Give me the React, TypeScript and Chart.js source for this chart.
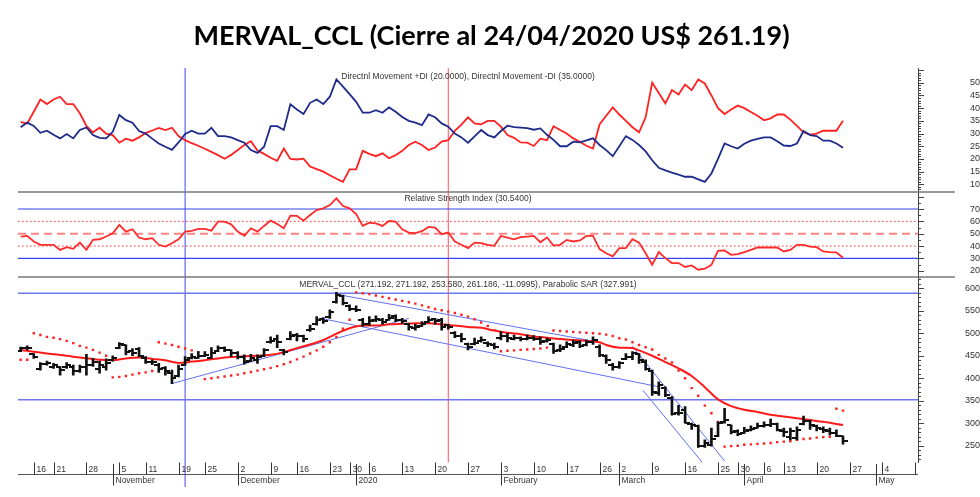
import { useEffect, useRef } from 'react';
import { Chart, registerables } from 'chart.js';

Chart.register(...registerables);

const FONT = '"Liberation Sans", Arial, sans-serif';
Chart.defaults.font.family = FONT;

const TITLE = 'MERVAL_CCL (Cierre al 24/04/2020 US$ 261.19)';
const DI_CAPTION = 'Directnl Movement +DI (20.0000), Directnl Movement -DI (35.0000)';
const RSI_CAPTION = 'Relative Strength Index (30.5400)';
const PRICE_CAPTION = 'MERVAL_CCL (271.192, 271.192, 253.580, 261.186, -11.0995), Parabolic SAR (327.991)';

// x axis: trading-day index (0 = 11 Oct 2019, 125 = 24 Apr 2020)
const X_MIN = -0.4;
const X_MAX = 136.4;
const WEEK_IDX = [2, 5, 10, 15, 19, 24, 28, 33, 38, 42, 47, 50, 53, 58, 63, 68, 73, 78, 83, 88, 91, 96, 101, 106, 109, 113, 116, 121, 126, 131, 136];
const WEEK_LABELS = ['16', '21', '28', '5', '11', '19', '25', '2', '9', '16', '23', '30', '6', '13', '20', '27', '3', '10', '17', '26', '2', '9', '16', '25', '30', '6', '13', '20', '27', '4', ''];
const MONTH_IDX = [14, 33, 51, 73, 91, 110, 130];
const MONTH_LABELS = ['November', 'December', '2020', 'February', 'March', 'April', 'May'];

const V_BLUE_IDX = 25;
const V_RED_IDX = 65;

// Directional movement
const DI_MIN = 7.0;
const DI_MAX = 55.8;
const DI_TICKS = [10, 15, 20, 25, 30, 35, 40, 45, 50];
const PLUS_DI = [
  32.5, 34.3, 33, 30.3, 31.1, 29.5, 28.1, 29.8, 28.1, 31.4,
  32.4, 29.4, 28.3, 28.1, 30.7, 37.3, 35.3, 34.3, 31, 30,
  28, 26.1, 24.8, 23.6, 26.5, 29.8, 31.1, 30, 30, 32.3,
  29, 29, 28.5, 27.4, 26.4, 23.5, 22.4, 24.8, 32.9, 32.9,
  31.4, 41.5, 39.5, 37.7, 42.1, 43.4, 41.6, 44.5, 51.3, 48.5,
  45.5, 42.5, 38.2, 38.2, 39.2, 38.2, 40.3, 38.6, 36.5, 35,
  34.3, 33.3, 37.5, 36.4, 34, 32.7, 30, 28.5, 26.4, 28.9,
  31.4, 29.4, 28.5, 31, 33.1, 32.5, 32.3, 32.1, 31.5, 32,
  29.5, 27.5, 25, 25, 26.8, 26.5, 27.3, 28.1, 25.5, 23.5,
  21.1, 25, 29, 27.5, 25.5, 23, 19.5, 16.5, 15.5, 14.6,
  13.8, 13, 13, 12, 11, 14.3, 20, 26.1, 25, 24.1,
  26, 27.2, 27.9, 28.5, 28.5, 27, 25.3, 25.1, 26.1, 31,
  29.4, 29, 27.2, 27.2, 26.1, 24.4,
];
const MINUS_DI = [
  34.5, 34, 38.6, 43.4, 41.6, 43.4, 44.5, 41.6, 41.6, 38,
  33, 30.5, 32.3, 30, 29.4, 26.4, 28, 27.2, 28.5, 30.2,
  31.2, 32.2, 31.4, 32.3, 29, 27.4, 26.2, 25.2, 24, 22.8,
  21.5, 20.1, 21.6, 23.5, 25.5, 27, 23.3, 22, 20.5, 19.3,
  24.1, 20, 19.8, 20.1, 17, 16, 15, 13.6, 12.2, 11,
  15.9, 15.9, 23.2, 22, 21.1, 22.2, 20.3, 21.5, 23.2, 25.5,
  26.8, 25.5, 23.5, 24.5, 26.8, 27.4, 31.1, 33.5, 36.4, 34,
  33.6, 35, 35, 32.7, 29.4, 28.3, 26.5, 26.4, 25.1, 28,
  27.4, 32.9, 31.4, 30, 28.1, 26.8, 25.2, 24.1, 33.6, 37,
  40.3, 37.5, 35, 32.5, 30.5, 36.4, 50, 46, 41.9, 47.1,
  45.4, 49.3, 47.1, 51.3, 49.7, 45, 40, 37.7, 39.5, 41,
  40, 38.5, 37, 35.2, 36, 37.5, 37.5, 35.5, 33, 30.5,
  29.6, 30, 31.1, 31.1, 31.1, 35,
];

// RSI
const RSI_MIN = 14.9;
const RSI_MAX = 83.8;
const RSI_TICKS = [20, 30, 40, 50, 60, 70];
const RSI_BLUE_LEVELS = [70, 30];
const RSI_DOTTED_LEVELS = [60, 40];
const RSI_MID_LEVEL = 50;
const RSI = [
  47.7, 48.2, 43.7, 41, 41, 41, 36.9, 39.1, 37.7, 42.8,
  36.9, 45, 45.5, 47.7, 50.4, 57.1, 51.7, 53.6, 46.9, 45.5,
  46.4, 41, 39.6, 42.3, 45.5, 51.7, 52.3, 53.9, 53.9, 52.5,
  59.8, 59.8, 57.6, 51.7, 48.2, 54.4, 51.7, 56.3, 60.6, 57.9,
  54.4, 64.6, 64.4, 60.6, 65.2, 69.2, 70.5, 73.2, 78.6, 72.4,
  70.5, 66, 56.3, 59, 58.4, 56.3, 60.3, 59.8, 53.6, 50.9,
  50.4, 52, 55.5, 55, 49.6, 50.9, 43.7, 41, 38.3, 42.8,
  42.3, 41, 40.2, 48.2, 46.9, 45.5, 47.2, 47.7, 48.2, 43.1,
  46.9, 40.4, 41, 45, 43.7, 44.5, 48.2, 48.2, 37.5, 34.2,
  31.6, 38.3, 38.3, 45.5, 42.8, 34.2, 24.8, 35.1, 30.2, 26.2,
  26.2, 23, 24.3, 20.8, 21.6, 24.8, 36.1, 36.4, 32.9, 33.4,
  35.1, 36.9, 38.8, 38.8, 38.8, 38.8, 35.6, 36.9, 41, 41,
  39.6, 39.1, 35.6, 35.1, 34.8, 30.5,
];

// Price
const PRICE_MIN = 212.6;
const PRICE_MAX = 625.1;
const PRICE_TICKS = [250, 300, 350, 400, 450, 500, 550, 600];
const PRICE_LEVELS = [589, 352];
const OPEN = [
  460, 468, 453, 420, 432, 425, 424, 425, 425, 415,
  425, 430, 420, 425, 440, 468, 474, 460, 466, 446,
  436, 430, 422, 412, 405, 430, 445, 446, 450, 446,
  460, 468, 462, 455, 448, 438, 440, 450, 480, 488,
  462, 488, 497, 493, 508, 520, 532, 536, 570, 582,
  560, 555, 530, 520, 530, 530, 530, 538, 530, 520,
  512, 516, 526, 531, 530, 518, 500, 495, 476, 476,
  482, 478, 474, 490, 494, 488, 490, 488, 490, 488,
  482, 475, 462, 470, 474, 480, 474, 480, 470, 450,
  430, 425, 442, 448, 453, 437, 416, 368, 378, 356,
  322, 330, 298, 294, 250, 252, 272, 302, 295, 282,
  278, 285, 290, 294, 296, 298, 282, 270, 268, 298,
  304, 294, 288, 283, 278, 271.192,
];
const HIGH = [
  469, 472, 455, 435, 438, 433, 426, 435, 429, 429,
  453, 444, 438, 443, 450, 479, 474, 466, 468, 448,
  441, 433, 426, 418, 429, 448, 455, 459, 459, 468,
  472, 470, 463, 459, 452, 453, 452, 466, 492, 496,
  464, 504, 500, 496, 518, 537, 535, 552, 591, 585,
  563, 561, 533, 537, 539, 533, 542, 541, 533, 522,
  520, 526, 537, 533, 533, 520, 504, 500, 478, 489,
  492, 481, 478, 504, 500, 496, 492, 496, 495, 492,
  490, 478, 474, 481, 485, 483, 485, 492, 474, 452,
  433, 437, 455, 459, 455, 441, 418, 392, 381, 359,
  340, 337, 300, 296, 263, 289, 303, 333, 296, 285,
  291, 294, 300, 303, 309, 300, 289, 289, 292, 316,
  307, 296, 292, 289, 285, 271.192,
];
const LOW = [
  459, 463, 444, 418, 429, 422, 407, 422, 407, 413,
  407, 426, 411, 418, 438, 466, 452, 450, 448, 433,
  430, 413, 407, 388, 403, 429, 443, 444, 448, 444,
  459, 459, 448, 443, 431, 437, 433, 448, 478, 468,
  452, 485, 483, 481, 504, 518, 522, 533, 567, 563,
  550, 548, 515, 518, 526, 520, 529, 526, 522, 507,
  507, 515, 524, 520, 507, 509, 490, 481, 463, 474,
  480, 470, 465, 485, 481, 485, 483, 485, 484, 475,
  480, 455, 459, 468, 470, 468, 472, 475, 448, 433,
  418, 422, 441, 441, 433, 418, 362, 362, 359, 318,
  318, 300, 286, 246, 246, 249, 270, 300, 276, 272,
  277, 283, 289, 291, 292, 283, 270, 263, 263, 296,
  286, 283, 279, 274, 270, 253.58,
];
const CLOSE = [
  468, 468, 447, 432, 434, 430, 418, 430, 415, 425,
  430, 437, 430, 433, 445, 475, 459, 455, 450, 436,
  435, 420, 415, 400, 420, 440, 447, 450, 452, 455,
  468, 463, 455, 448, 437, 445, 447, 462, 483, 480,
  458, 495, 493, 488, 510, 530, 527, 548, 585, 568,
  555, 552, 520, 527, 532, 525, 535, 530, 527, 515,
  515, 520, 530, 528, 515, 513, 495, 488, 470, 478,
  485, 476, 470, 495, 490, 490, 488, 490, 488, 480,
  485, 460, 466, 475, 478, 472, 480, 485, 452, 440,
  425, 433, 448, 455, 440, 420, 370, 385, 362, 320,
  322, 300, 295, 250, 255, 265, 300, 308, 280, 277,
  283, 287, 293, 296, 298, 285, 280, 282, 285, 305,
  297, 289, 285, 279, 272.3, 261.186,
];
const SAR = [
  441, 441,
  500, 496, 492, 490, 487, 483, 478, 472, 468, 463, 457, 450,
  402, 403, 405, 408, 411, 413, 416,
  480, 477, 474, 470, 466, 462, 458,
  398, 400, 402, 404, 406, 408, 411, 414, 417, 420, 423, 427, 431, 436, 442, 448, 455, 462, 470, 480, 492, 510, 530,
  591, 589, 587, 584, 581, 578, 575, 572, 569, 566, 562, 558, 554, 551, 548, 545, 541, 537, 531, 524, 516, 507,
  460, 461, 462, 463, 464, 465, 466, 468,
  506, 505, 504, 503, 502, 501, 500, 499, 497, 494, 489, 486, 480, 474, 469, 464, 452, 444, 435, 417, 400, 378, 361, 339, 322, 303,
  248, 249, 250, 252, 253, 254, 255, 256, 258, 259, 260, 263, 265, 266, 268, 269, 270,
  332, 328,
];
const MA_IDX = [0, 2, 4, 7, 9, 12, 14, 16, 18, 20, 22, 24, 26, 28, 30, 32, 34, 36, 38, 40, 42, 44, 46, 48, 50, 52, 54, 56, 58, 60, 62, 64, 66, 68, 70, 72, 74, 76, 78, 80, 82, 84, 86, 88, 89, 91, 93, 94, 96, 98, 100, 102, 104, 106, 108, 110, 112, 114, 116, 118, 120, 122, 125];
const MA_VAL = [463, 459, 455, 450, 446, 441, 440, 444, 446, 443, 440, 434, 437, 440, 444, 447, 449, 450, 452, 458, 467, 475, 485, 499, 511, 517, 517, 520, 521, 522, 522, 520, 517, 514, 512, 506, 501, 498, 493, 490, 487, 485, 483, 480, 474, 468, 467, 462, 450, 436, 422, 405, 380, 353, 338, 330, 325, 319, 315, 311, 307, 303, 296];
const TREND_X = [[23, 59], [49, 88], [46, 97], [93, 107], [94.6, 103.6]];
const TREND_Y = [[388, 533], [584, 480], [532, 381], [471, 216], [373, 213]];

const C_BLUE_V = '#3a48e8';
const C_RED_V = '#ff5050';

let tickImgs: any = null;
function getTickImages() {
  if (tickImgs) return tickImgs;
  const mk = (left: boolean) => {
    const c = document.createElement('canvas');
    c.width = 9;
    c.height = 2;
    const g = c.getContext('2d')!;
    g.fillStyle = '#111';
    if (left) g.fillRect(0, 0, 4.5, 2);
    else g.fillRect(4.5, 0, 4.5, 2);
    return c;
  };
  tickImgs = { open: mk(true), close: mk(false) };
  return tickImgs;
}

function series(vals: number[], color: string, width: number, order = 1) {
  return {
    type: 'line',
    data: vals.map((v, i) => ({ x: i, y: v })),
    borderColor: color,
    borderWidth: width,
    pointRadius: 0,
    tension: 0,
    fill: false,
    order,
  };
}

function hline(v: number, color: string, width: number, dash: number[] = []) {
  return {
    type: 'line',
    data: [{ x: X_MIN, y: v }, { x: X_MAX, y: v }],
    borderColor: color,
    borderWidth: width,
    borderDash: dash,
    pointRadius: 0,
    order: 10,
  };
}

function vline(idx: number, lo: number, hi: number, color: string, clip: any = undefined) {
  const d: any = {
    type: 'line',
    data: [{ x: idx, y: lo }, { x: idx, y: hi }],
    borderColor: color,
    borderWidth: 1,
    pointRadius: 0,
    order: 10,
  };
  if (clip !== undefined) d.clip = clip;
  return d;
}

function yAxis(min: number, max: number, ticks: number[], tl: number) {
  return {
    type: 'linear',
    position: 'right',
    min,
    max,
    afterBuildTicks: (s: any) => {
      s.ticks = ticks.map((v) => ({ value: v }));
    },
    afterFit: (s: any) => {
      s.width = 62;
    },
    grid: { display: false, drawTicks: true, tickLength: tl },
    border: { display: true, color: '#444', width: 1 },
    ticks: { padding: 0, crossAlign: 'far', color: '#333', font: { size: 9, family: FONT } },
  };
}

function baseOptions(top: number, bottom: number, y: any) {
  return {
    animation: false,
    responsive: false,
    events: [],
    layout: { padding: { left: 18, right: 0, top, bottom } },
    plugins: { legend: { display: false }, tooltip: { enabled: false }, title: { display: false } },
    scales: {
      x: { type: 'linear', min: X_MIN, max: X_MAX, display: false, offset: false },
      y,
    },
  };
}

function minorTicksPlugin(lo: number, hi: number, step: number, major: number) {
  return {
    id: 'minorTicks',
    afterDraw(chart: any) {
      const s = chart.scales.y;
      const ctx = chart.ctx;
      ctx.save();
      ctx.strokeStyle = '#444';
      ctx.lineWidth = 1;
      const n = Math.round((hi - lo) / step);
      for (let k = 0; k <= n; k++) {
        const v = lo + k * step;
        const y = Math.round(s.getPixelForValue(v)) + 0.5;
        const isMajor = Math.abs(v / major - Math.round(v / major)) < 1e-6;
        ctx.beginPath();
        ctx.moveTo(s.left, y);
        ctx.lineTo(s.left + (isMajor ? 6 : 3), y);
        ctx.stroke();
      }
      ctx.restore();
    },
  };
}

function captionPlugin(text: string, dy: number) {
  return {
    id: 'caption',
    afterDraw(chart: any) {
      const a = chart.chartArea;
      const ctx = chart.ctx;
      ctx.save();
      ctx.font = `8.5px ${FONT}`;
      ctx.fillStyle = '#333';
      ctx.textAlign = 'center';
      ctx.textBaseline = 'middle';
      ctx.fillText(text, (a.left + a.right) / 2, a.top + dy);
      ctx.restore();
    },
  };
}

const separatorPlugin = {
  id: 'separator',
  afterDraw(chart: any) {
    const a = chart.chartArea;
    const ctx = chart.ctx;
    ctx.save();
    ctx.strokeStyle = '#777';
    ctx.lineWidth = 1.5;
    ctx.beginPath();
    ctx.moveTo(a.left, a.top);
    ctx.lineTo(955, a.top);
    ctx.stroke();
    ctx.restore();
  },
};

const titlePlugin = {
  id: 'mainTitle',
  afterDraw(chart: any) {
    const ctx = chart.ctx;
    ctx.save();
    ctx.font = `bold 27px Lato, ${FONT}`;
    ctx.fillStyle = '#000';
    ctx.textAlign = 'center';
    ctx.textBaseline = 'alphabetic';
    ctx.fillText(TITLE, 491.5, 45);
    ctx.restore();
  },
};

const xAxisPlugin = {
  id: 'xAxisDraw',
  afterDraw(chart: any) {
    const ctx = chart.ctx;
    const a = chart.chartArea;
    const xs = chart.scales.x;
    const axisY = Math.round(a.bottom + 11.5) + 0.5;
    ctx.save();
    ctx.strokeStyle = '#555';
    ctx.lineWidth = 1;
    ctx.beginPath();
    ctx.moveTo(a.left, axisY);
    ctx.lineTo(a.right, axisY);
    ctx.stroke();
    ctx.strokeStyle = '#333';
    ctx.fillStyle = '#333';
    ctx.font = `8.5px ${FONT}`;
    ctx.textAlign = 'left';
    ctx.textBaseline = 'middle';
    WEEK_IDX.forEach((idx, k) => {
      const px = Math.round(xs.getPixelForValue(idx)) + 0.5;
      ctx.beginPath();
      ctx.moveTo(px, a.bottom);
      ctx.lineTo(px, axisY);
      ctx.stroke();
      if (WEEK_LABELS[k]) ctx.fillText(WEEK_LABELS[k], px + 2, a.bottom + 7);
    });
    MONTH_IDX.forEach((idx, k) => {
      const px = Math.round(xs.getPixelForValue(idx)) + 0.5;
      ctx.beginPath();
      ctx.moveTo(px, a.bottom + 1.5);
      ctx.lineTo(px, a.bottom + 23);
      ctx.stroke();
      ctx.fillText(MONTH_LABELS[k], px + 2, a.bottom + 18);
    });
    ctx.restore();
  },
};

function buildDI() {
  return {
    type: 'line',
    data: {
      datasets: [
        vline(V_BLUE_IDX, DI_MIN, DI_MAX, C_BLUE_V),
        vline(V_RED_IDX, DI_MIN, DI_MAX, C_RED_V),
        series(PLUS_DI, '#1d2a8a', 1.8),
        series(MINUS_DI, '#ff2020', 1.8),
      ],
    },
    options: baseOptions(68, 8, yAxis(DI_MIN, DI_MAX, DI_TICKS, 24)),
    plugins: [titlePlugin, captionPlugin(DI_CAPTION, 9), minorTicksPlugin(8, 55, 1, 5)],
  };
}

function buildRSI() {
  return {
    type: 'line',
    data: {
      datasets: [
        ...RSI_BLUE_LEVELS.map((v) => hline(v, '#3444f0', 1.2)),
        ...RSI_DOTTED_LEVELS.map((v) => hline(v, '#ff3030', 1, [1.5, 2.5])),
        hline(RSI_MID_LEVEL, 'rgba(255,110,110,0.85)', 2, [8, 5]),
        vline(V_BLUE_IDX, RSI_MIN, RSI_MAX, C_BLUE_V),
        vline(V_RED_IDX, RSI_MIN, RSI_MAX, C_RED_V),
        series(RSI, '#ff2a2a', 1.8),
      ],
    },
    options: baseOptions(8, 8, yAxis(RSI_MIN, RSI_MAX, RSI_TICKS, 24)),
    plugins: [separatorPlugin, captionPlugin(RSI_CAPTION, 7), minorTicksPlugin(15, 80, 5, 10)],
  };
}

function buildPrice() {
  const img = getTickImages();
  const bottomY = PRICE_MIN - (24.5 / 185.5) * (PRICE_MAX - PRICE_MIN);
  return {
    type: 'line',
    data: {
      datasets: [
        ...PRICE_LEVELS.map((v) => hline(v, '#6b78f0', 1.5)),
        ...TREND_X.map((xs, k) => ({
          type: 'line',
          data: xs.map((x, j) => ({ x, y: TREND_Y[k][j] })),
          borderColor: '#6070f0',
          borderWidth: 1,
          pointRadius: 0,
          order: 10,
        })),
        vline(V_BLUE_IDX, bottomY, PRICE_MAX, C_BLUE_V, false),
        vline(V_RED_IDX, PRICE_MIN, PRICE_MAX, C_RED_V),
        {
          type: 'line',
          data: MA_IDX.map((x, k) => ({ x, y: MA_VAL[k] })),
          borderColor: '#ff1a1a',
          borderWidth: 2,
          pointRadius: 0,
          cubicInterpolationMode: 'monotone',
          order: 5,
        },
        {
          type: 'line',
          data: SAR.map((v, i) => ({ x: i, y: v })),
          showLine: false,
          pointStyle: 'rect',
          pointRadius: 1.7,
          pointBorderWidth: 0,
          pointBackgroundColor: '#ff2020',
          borderColor: '#ff2020',
          order: 4,
        },
        {
          type: 'bar',
          data: HIGH.map((h, i) => ({ x: i, y: [LOW[i], h] })),
          backgroundColor: '#111',
          borderWidth: 0,
          barThickness: 2,
          grouped: false,
          order: 2,
        },
        {
          type: 'line',
          data: OPEN.map((v, i) => ({ x: i, y: v })),
          showLine: false,
          pointStyle: img.open,
          pointRadius: 3,
          order: 1,
        },
        {
          type: 'line',
          data: CLOSE.map((v, i) => ({ x: i, y: v })),
          showLine: false,
          pointStyle: img.close,
          pointRadius: 3,
          order: 1,
        },
      ],
    },
    options: baseOptions(8, 34.5, yAxis(PRICE_MIN, PRICE_MAX, PRICE_TICKS, 19)),
    plugins: [separatorPlugin, captionPlugin(PRICE_CAPTION, 8), minorTicksPlugin(220, 620, 10, 50), xAxisPlugin],
  };
}

function ChartCanvas({ top, height, build }: { top: number; height: number; build: () => any }) {
  const ref = useRef<HTMLCanvasElement>(null);
  useEffect(() => {
    const chart = new Chart(ref.current as HTMLCanvasElement, build());
    return () => chart.destroy();
  }, []);
  return (
    <canvas
      ref={ref}
      width={980}
      height={height}
      style={{ position: 'absolute', left: 0, top, width: 980, height, display: 'block' }}
    />
  );
}

export default function App() {
  return (
    <div style={{ position: 'absolute', left: 0, top: 0, width: 980, height: 497, background: '#fff', overflow: 'hidden' }}>
      <ChartCanvas top={0} height={200} build={buildDI} />
      <ChartCanvas top={184} height={101} build={buildRSI} />
      <ChartCanvas top={269} height={228} build={buildPrice} />
    </div>
  );
}
